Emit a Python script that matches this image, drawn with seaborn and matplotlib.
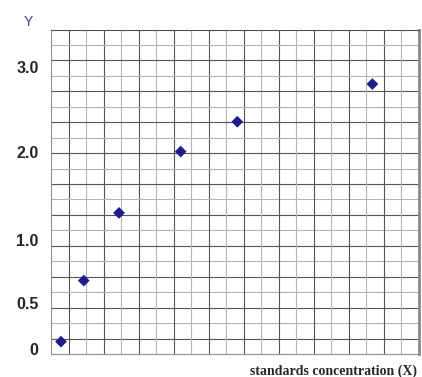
import pandas as pd
import matplotlib.pyplot as plt
import seaborn as sns

# points (x = grid columns, y = grid rows, 21 x 21 cells)
conc_x = [0.57, 1.87, 3.88, 7.40, 10.63, 18.34]
resp_y = [0.80, 4.75, 9.13, 13.10, 15.03, 17.47]

# y labels sit at these rows (the original scale is not linear)
ytick_rows = [0.3, 3.3, 7.4, 13.1, 18.6]
ytick_labels = ['0', '0.5', '1.0', '2.0', '3.0']

df = pd.DataFrame({'x': conc_x, 'y': resp_y})

sns.set_style('white')
fig = plt.figure(figsize=(4.22, 3.77), dpi=100)
ax = fig.add_axes([51 / 422, 23 / 377, 368 / 422, 324.5 / 377])

n = 21
# graph paper: every other line darker
for i in range(1, n):
    c = '#555555' if i % 2 == 1 else '#b4b4b4'
    ax.axvline(i, color=c, lw=0.8, zorder=1)
    ax.axhline(i, color=c, lw=0.8, zorder=1)

sns.scatterplot(data=df, x='x', y='y', ax=ax, marker='D', s=36,
                color='#1c1c8a', edgecolor='none', zorder=3)

ax.set_xlim(0, n)
ax.set_ylim(0, n)
ax.set_xticks([])
ax.set_yticks(ytick_rows)
ax.set_yticklabels(ytick_labels, fontsize=11.5, fontweight='bold',
                   family='Liberation Sans')
ax.tick_params(axis='y', length=0, pad=9)
ax.set_xlabel('')
ax.set_ylabel('')

for side in ['left', 'bottom', 'top']:
    ax.spines[side].set_color('#909090')
    ax.spines[side].set_linewidth(0.8)
ax.spines['top'].set_color('#505050')
ax.spines['right'].set_color('#8a8a8a')
ax.spines['right'].set_linewidth(2)

fig.text(28 / 422, 1 - 22 / 377, 'Y', color='#3c3c9c', fontsize=10,
         family='Liberation Sans', ha='center', va='center')
fig.text(417 / 422, 1 - 371 / 377, 'standards concentration (X)',
         fontsize=10, fontweight='bold', family='Liberation Serif',
         ha='right', va='center')

fig.savefig('out.png', dpi=100)
